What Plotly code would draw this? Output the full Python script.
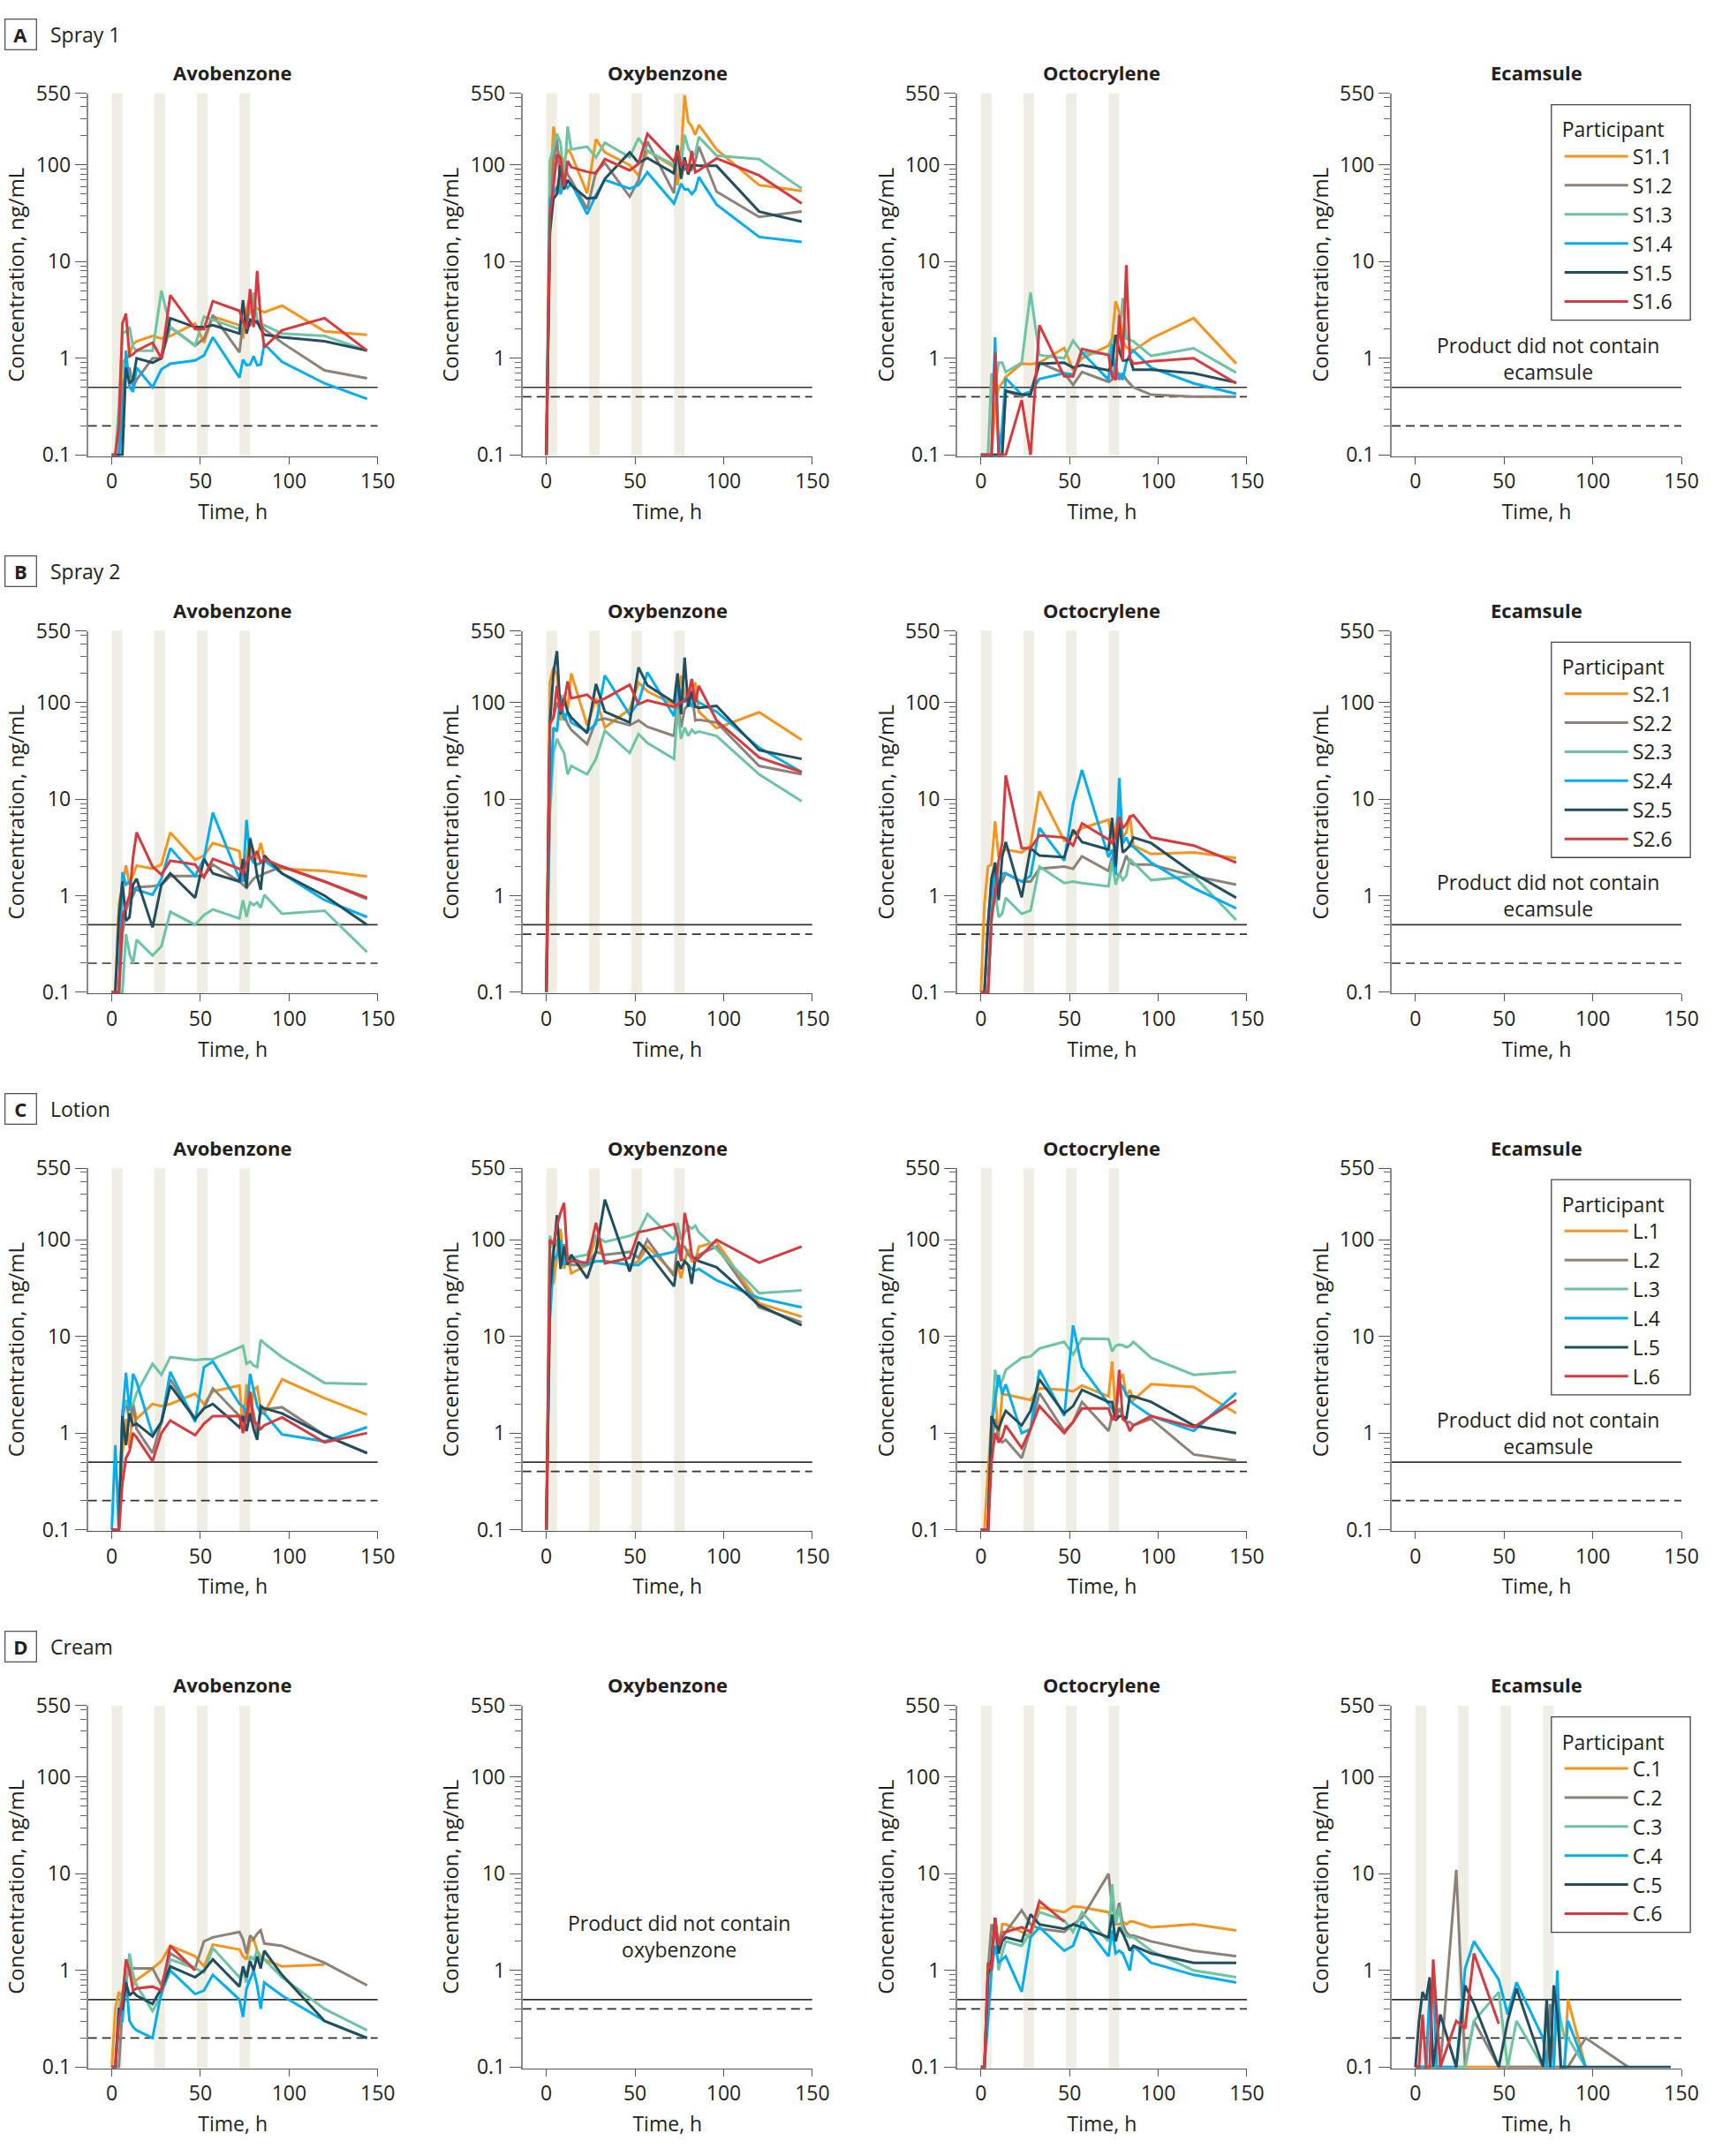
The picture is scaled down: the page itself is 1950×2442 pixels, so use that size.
import math
import plotly.graph_objects as go

# ---------------- data ----------------
T = [0, 2, 4, 6, 8, 10, 12, 14, 23, 28, 33, 47, 52, 57, 72, 74, 76, 78, 80, 82, 84, 86, 96, 120, 144]

ROW_NAMES = ["Spray 1", "Spray 2", "Lotion", "Cream"]
ROW_LETTERS = ["A", "B", "C", "D"]
COMPOUNDS = ["Avobenzone", "Oxybenzone", "Octocrylene", "Ecamsule"]
PARTICIPANTS = [
    ["S1.1", "S1.2", "S1.3", "S1.4", "S1.5", "S1.6"],
    ["S2.1", "S2.2", "S2.3", "S2.4", "S2.5", "S2.6"],
    ["L.1", "L.2", "L.3", "L.4", "L.5", "L.6"],
    ["C.1", "C.2", "C.3", "C.4", "C.5", "C.6"],
]
LLOQ_SOLID = 0.5
LLOQ_DASHED = [0.2, 0.4, 0.4, 0.2]
APPLICATION_BANDS = [(0, 6), (24, 30), (48, 54), (72, 78)]

spray1_avobenzone = [
    [0.1, 0.1, 0.1, 0.9, 1.0, 1.1, 1.4, 1.5, 1.7, 1.6, 1.7, 2.3, 1.45, 2.7, 2.2, 1.6, 3.2, 4.4, 3.5, 3.3, 3.1, 3.0, 3.5, 1.9, 1.75],
    [0.1, 0.1, 0.1, 0.5, 0.7, 0.8, 0.5, 0.6, 1.0, 1.0, 2.1, 1.35, 1.6, 2.8, 1.15, 2.3, 2.4, 2.2, 2.5, 2.3, 2.2, 2.0, 1.45, 0.75, 0.62],
    [0.1, 0.1, 0.3, 1.8, 1.9, 2.1, 1.3, 1.2, 1.2, 5.0, 2.1, 1.35, 2.7, 2.5, 2.0, 2.2, 2.5, 3.0, 4.8, 2.5, 2.3, 2.2, 1.8, 1.7, 1.2],
    [0.1, 0.1, 0.1, 0.2, 1.2, 0.5, 0.45, 0.8, 0.5, 0.77, 0.88, 0.95, 1.07, 1.65, 0.63, 0.97, 0.85, 0.86, 1.05, 0.85, 0.86, 1.4, 0.92, 0.55, 0.38],
    [0.1, 0.1, 0.1, 0.1, 0.8, 0.55, 0.6, 1.0, 0.9, 1.0, 2.6, 2.1, 2.1, 2.2, 1.8, 4.0, 1.8, 2.5, 2.4, 2.4, 2.0, 1.75, 1.65, 1.5, 1.2],
    [0.1, 0.1, 0.2, 2.3, 2.9, 1.05, 1.1, 1.2, 1.45, 1.0, 4.5, 2.0, 2.0, 3.9, 3.1, 2.4, 2.0, 5.2, 2.1, 8.0, 2.5, 1.3, 1.95, 2.6, 1.2],
]
spray1_oxybenzone = [
    [0.1, 40, 250, 150, 120, 110, 145, 130, 51, 185, 135, 100, 78, 140, 95, 62, 130, 530, 280, 250, 205, 260, 145, 62, 54],
    [0.1, 20, 110, 185, 55, 110, 80, 70, 35, 85, 105, 47, 70, 175, 51, 130, 100, 90, 100, 90, 110, 155, 53, 29, 33],
    [0.1, 110, 150, 210, 170, 70, 250, 145, 155, 120, 170, 120, 190, 140, 100, 150, 100, 205, 150, 130, 130, 195, 125, 115, 57],
    [0.1, 44, 50, 60, 50, 65, 58, 65, 31, 49, 70, 57, 62, 84, 40, 50, 64, 56, 56, 50, 55, 75, 39, 18, 16],
    [0.1, 20, 45, 50, 100, 56, 70, 62, 45, 46, 72, 135, 105, 118, 82, 160, 72, 120, 80, 100, 100, 98, 98, 33, 26],
    [0.1, 30, 60, 128, 120, 60, 110, 95, 85, 82, 115, 88, 103, 210, 108, 142, 100, 108, 85, 140, 84, 88, 117, 78, 40],
]
spray1_octocrylene = [
    [0.1, 0.1, 0.1, 0.1, 0.3, 0.5, 0.55, 0.64, 0.88, 0.87, 0.9, 1.28, 0.75, 1.0, 1.35, 1.6, 3.9, 3.0, 1.5, 1.3, 1.25, 1.2, 1.6, 2.6, 0.88],
    [0.1, 0.1, 0.1, 0.1, 0.1, 0.1, 0.1, 0.46, 0.4, 0.45, 0.9, 0.7, 0.53, 0.72, 0.57, 0.6, 0.84, 0.6, 0.7, 0.6, 0.55, 0.5, 0.42, 0.4, 0.4],
    [0.1, 0.1, 0.1, 0.7, 0.5, 0.9, 0.9, 0.72, 0.9, 4.8, 1.08, 1.0, 1.52, 1.15, 1.1, 1.5, 1.7, 1.6, 4.2, 1.6, 1.55, 1.5, 1.06, 1.27, 0.71],
    [0.1, 0.1, 0.1, 0.1, 1.65, 0.1, 0.2, 0.62, 0.42, 0.45, 0.61, 0.7, 0.68, 1.15, 0.6, 1.4, 0.6, 0.7, 0.6, 0.9, 1.1, 1.2, 0.8, 0.55, 0.43],
    [0.1, 0.1, 0.1, 0.1, 0.1, 0.1, 0.1, 0.46, 0.42, 0.42, 0.88, 0.9, 0.8, 0.85, 0.75, 0.85, 1.75, 1.2, 0.95, 0.95, 1.0, 0.76, 0.76, 0.7, 0.56],
    [0.1, 0.1, 0.1, 0.1, 1.15, 0.1, 0.1, 0.1, 0.37, 0.1, 2.2, 0.65, 0.65, 1.25, 1.08, 0.65, 0.6, 2.8, 0.95, 9.2, 1.0, 0.88, 0.93, 1.0, 0.55],
]
spray2_avobenzone = [
    [0.1, 0.1, 0.8, 1.3, 2.05, 1.3, 1.6, 2.05, 1.9, 2.1, 4.5, 2.35, 2.6, 3.5, 2.9, 1.4, 2.5, 4.0, 2.2, 2.5, 3.5, 2.4, 1.9, 1.8, 1.58],
    [0.1, 0.1, 0.1, 0.4, 0.7, 0.9, 1.0, 1.22, 1.25, 1.3, 1.6, 1.6, 1.6, 2.1, 1.4, 1.3, 1.2, 1.35, 1.5, 1.6, 1.6, 1.7, 2.0, 1.4, 0.92],
    [0.1, 0.1, 0.1, 0.1, 0.4, 0.25, 0.2, 0.35, 0.24, 0.3, 0.68, 0.5, 0.63, 0.72, 0.58, 0.9, 0.6, 0.85, 0.8, 0.85, 0.75, 1.02, 0.65, 0.7, 0.26],
    [0.1, 0.1, 0.1, 1.75, 1.3, 1.4, 1.2, 1.15, 1.02, 1.5, 3.1, 1.6, 2.4, 7.2, 1.5, 1.4, 6.1, 2.5, 2.2, 2.1, 2.2, 2.3, 1.7, 0.9, 0.6],
    [0.1, 0.1, 0.6, 1.4, 0.55, 0.6, 1.3, 1.5, 0.47, 1.3, 1.7, 0.95, 2.4, 1.7, 1.4, 2.4, 1.2, 3.9, 2.8, 1.6, 1.15, 2.6, 1.7, 1.0, 0.5],
    [0.1, 0.1, 0.1, 0.6, 0.8, 1.0, 2.5, 4.5, 2.0, 1.65, 2.3, 2.1, 1.55, 2.4, 1.9, 1.7, 2.2, 2.5, 2.5, 2.9, 2.2, 2.4, 2.0, 1.4, 0.95],
]
spray2_oxybenzone = [
    [0.1, 160, 230, 190, 65, 120, 85, 200, 58, 110, 55, 85, 160, 130, 95, 85, 190, 120, 110, 140, 160, 80, 54, 79, 41],
    [0.1, 60, 70, 100, 80, 75, 60, 52, 37, 65, 68, 58, 65, 56, 45, 100, 55, 85, 95, 130, 65, 66, 62, 22, 18],
    [0.1, 7, 30, 42, 35, 30, 18, 22, 18, 26, 51, 30, 47, 38, 26, 85, 42, 55, 45, 52, 48, 50, 45, 18, 9.5],
    [0.1, 10, 55, 50, 120, 65, 80, 62, 50, 60, 190, 75, 100, 205, 72, 150, 130, 100, 110, 90, 110, 100, 80, 34, 19],
    [0.1, 60, 200, 340, 75, 110, 80, 70, 48, 155, 80, 62, 230, 150, 100, 200, 75, 290, 90, 130, 90, 88, 92, 32, 26],
    [0.1, 60, 70, 148, 80, 100, 165, 110, 120, 100, 110, 152, 96, 105, 90, 95, 100, 105, 120, 175, 100, 148, 65, 27, 19],
]
spray2_octocrylene = [
    [0.1, 0.82, 2.0, 2.1, 5.9, 2.5, 2.8, 3.0, 2.8, 3.3, 12, 3.7, 4.3, 5.0, 6.1, 3.5, 5.0, 8.3, 4.0, 4.5, 6.8, 3.3, 2.7, 2.8, 2.45],
    [0.1, 0.1, 0.5, 1.5, 2.0, 1.3, 1.4, 1.7, 1.4, 1.4, 1.9, 2.0, 1.9, 2.55, 1.8, 2.5, 1.7, 1.6, 2.0, 2.6, 2.2, 2.1, 2.1, 1.6, 1.3],
    [0.1, 0.1, 0.1, 0.55, 1.1, 0.6, 0.65, 0.95, 0.65, 0.7, 2.0, 1.35, 1.4, 1.35, 1.25, 2.3, 1.3, 1.7, 1.45, 1.6, 2.4, 2.2, 1.45, 1.6, 0.56],
    [0.1, 0.1, 0.1, 0.6, 2.2, 1.2, 1.7, 1.7, 1.4, 1.6, 5.0, 2.3, 9.0, 20, 2.5, 3.0, 1.7, 16.5, 3.5, 4.0, 3.3, 3.2, 2.2, 1.2, 0.74],
    [0.1, 0.1, 0.5, 1.5, 2.2, 0.9, 2.5, 3.6, 0.96, 3.1, 2.6, 2.5, 4.8, 3.6, 3.0, 6.4, 2.0, 6.0, 2.8, 3.0, 3.3, 4.0, 3.5, 1.7, 0.95],
    [0.1, 0.1, 0.1, 0.6, 1.0, 2.3, 3.5, 17.5, 3.1, 3.1, 4.2, 4.0, 3.3, 5.6, 3.8, 3.5, 4.0, 6.5, 5.0, 5.5, 6.5, 6.8, 4.0, 3.3, 2.2],
]
lotion_avobenzone = [
    [0.1, 0.1, 0.1, 0.6, 1.4, 0.7, 2.0, 1.4, 2.0, 1.9, 2.0, 2.55, 2.0, 2.7, 3.1, 1.1, 3.2, 1.3, 2.8, 3.0, 1.8, 1.6, 3.6, 2.3, 1.55],
    [0.1, 0.1, 0.1, 1.4, 2.2, 1.3, 2.0, 1.1, 0.62, 1.3, 3.6, 1.4, 1.8, 2.9, 1.5, 1.5, 1.4, 2.2, 1.6, 1.0, 1.8, 1.75, 1.85, 0.95, 0.62],
    [0.1, 0.1, 0.1, 1.7, 2.1, 1.9, 2.0, 2.6, 5.2, 4.0, 6.1, 5.7, 5.8, 5.8, 7.6, 8.0, 5.2, 5.5, 5.0, 4.8, 9.2, 8.5, 6.1, 3.3, 3.2],
    [0.1, 0.75, 0.1, 1.5, 4.2, 1.7, 4.1, 3.4, 0.96, 1.3, 4.3, 1.3, 4.8, 5.5, 2.0, 1.9, 1.5, 4.1, 2.8, 1.9, 1.6, 1.6, 0.97, 0.82, 1.15],
    [0.1, 0.1, 0.1, 1.5, 0.75, 1.6, 1.2, 1.25, 0.92, 1.3, 3.1, 1.4, 1.8, 2.0, 1.15, 1.5, 1.05, 1.6, 1.1, 0.85, 1.9, 1.8, 1.6, 0.95, 0.62],
    [0.1, 0.1, 0.1, 0.3, 0.55, 0.65, 1.0, 0.9, 0.51, 1.0, 1.35, 0.95, 1.25, 1.5, 1.5, 1.0, 1.5, 2.7, 1.3, 1.25, 1.1, 1.2, 1.45, 0.8, 1.0],
]
lotion_oxybenzone = [
    [0.1, 40, 35, 70, 130, 50, 70, 45, 55, 105, 60, 55, 60, 85, 45, 55, 40, 60, 80, 60, 60, 85, 95, 22, 16],
    [0.1, 40, 80, 100, 60, 90, 65, 55, 55, 75, 70, 75, 65, 100, 42, 90, 85, 85, 70, 65, 65, 70, 85, 20, 14],
    [0.1, 110, 80, 100, 80, 65, 60, 65, 70, 110, 95, 110, 120, 185, 100, 150, 100, 120, 140, 130, 140, 120, 80, 28, 30],
    [0.1, 15, 60, 70, 100, 55, 60, 65, 55, 60, 60, 55, 55, 65, 75, 85, 65, 60, 55, 50, 48, 50, 38, 25, 20],
    [0.1, 30, 70, 180, 50, 85, 55, 70, 40, 75, 260, 47, 95, 75, 33, 60, 50, 60, 55, 35, 65, 60, 52, 21, 13],
    [0.1, 100, 90, 140, 190, 240, 60, 60, 58, 150, 57, 65, 120, 125, 145, 110, 60, 190, 130, 70, 60, 65, 100, 58, 85],
]
lotion_octocrylene = [
    [0.1, 0.1, 0.4, 1.3, 2.5, 0.9, 2.5, 2.5, 2.3, 2.2, 2.9, 2.8, 2.7, 3.1, 2.4, 5.5, 1.6, 3.5, 4.1, 2.4, 2.8, 2.2, 3.2, 3.0, 1.6],
    [0.1, 0.1, 0.1, 0.8, 1.4, 0.9, 0.8, 0.85, 0.55, 1.1, 2.6, 1.05, 1.3, 2.1, 1.05, 1.5, 1.4, 1.8, 1.5, 1.3, 1.3, 1.2, 1.4, 0.6, 0.52],
    [0.1, 0.1, 0.1, 1.0, 4.5, 3.0, 3.5, 4.5, 6.0, 6.2, 7.5, 8.8, 6.5, 9.5, 9.4, 7.0, 8.0, 8.2, 8.1, 7.7, 8.0, 8.8, 6.0, 4.0, 4.3],
    [0.1, 0.1, 0.1, 1.2, 2.2, 4.0, 2.5, 3.2, 1.0, 1.1, 4.5, 1.5, 13, 4.8, 2.0, 1.8, 1.5, 3.3, 3.0, 2.5, 2.2, 2.0, 1.5, 1.05, 2.6],
    [0.1, 0.1, 0.1, 1.5, 1.2, 1.1, 1.4, 1.7, 1.2, 1.7, 3.6, 1.6, 1.9, 2.8, 2.1, 2.1, 1.35, 1.5, 1.5, 1.4, 2.4, 2.4, 2.1, 1.2, 1.0],
    [0.1, 0.1, 0.1, 0.5, 1.0, 0.8, 0.9, 1.2, 0.7, 1.1, 1.9, 1.0, 1.3, 1.8, 1.8, 1.4, 1.4, 4.5, 1.4, 1.3, 1.05, 1.2, 1.5, 1.15, 2.2],
]
cream_avobenzone = [
    [0.1, 0.4, 0.6, 0.5, 1.2, 1.3, 0.7, 0.8, 1.05, 1.25, 1.8, 1.4, 1.1, 1.85, 1.65, 1.4, 1.3, 2.0, 2.1, 1.6, 1.4, 1.3, 1.1, 1.15, None],
    [0.1, 0.1, 0.1, 0.4, 0.8, 1.05, 1.05, 1.05, 1.05, 0.7, 1.5, 1.05, 2.0, 2.2, 2.5, 2.1, 1.5, 2.3, 2.1, 2.4, 2.6, 1.9, 1.8, 1.2, 0.7],
    [0.1, 0.1, 0.4, 0.6, 0.7, 1.5, 0.9, 0.7, 0.38, 0.55, 1.3, 1.05, 0.95, 1.7, 0.85, 1.0, 0.75, 1.4, 1.3, 1.6, 1.3, 1.3, 0.85, 0.4, 0.24],
    [0.1, 0.1, 0.3, 0.3, 0.8, 0.3, 0.26, 0.24, 0.2, 0.6, 1.0, 0.57, 0.62, 0.9, 0.5, 0.33, 0.65, 0.8, 1.0, 0.7, 0.4, 0.75, 0.55, 0.3, 0.2],
    [0.1, 0.1, 0.4, 0.4, 0.75, 0.55, 0.6, 0.55, 0.45, 0.65, 1.1, 0.85, 1.0, 1.3, 0.68, 1.1, 0.85, 1.25, 1.0, 1.4, 1.05, 1.6, 0.9, 0.3, 0.2],
    [0.1, 0.1, 0.3, 0.5, 1.3, 1.0, 0.62, 0.65, 0.68, 0.62, 1.8, 1.0, None, None, None, None, None, None, None, None, None, None, None, None, None],
]
cream_octocrylene = [
    [0.1, 0.1, 0.8, 1.5, 3.5, 1.5, 3.0, 3.0, 2.5, 2.2, 4.5, 4.0, 4.6, 4.5, 4.0, 3.2, 3.0, 3.0, 3.2, 3.0, 3.2, 3.2, 2.8, 3.0, 2.6],
    [0.1, 0.1, 1.0, 3.0, 2.5, 2.0, 2.5, 2.5, 4.2, 3.0, 2.7, 2.5, 3.0, 3.5, 10, 4.5, 3.5, 5.0, 3.0, 2.5, 2.3, 2.3, 2.0, 1.6, 1.4],
    [0.1, 0.1, 0.8, 1.5, 3.0, 1.0, 1.5, 2.0, 1.8, 2.5, 4.0, 3.3, 2.5, 4.0, 2.0, 7.8, 3.0, 4.5, 2.5, 2.3, 2.2, 2.2, 1.6, 1.0, 0.85],
    [0.1, 0.1, 0.3, 1.0, 1.8, 1.2, 1.3, 1.4, 0.6, 2.2, 2.8, 1.6, 1.8, 3.2, 1.4, 2.6, 1.5, 1.6, 1.5, 1.2, 1.0, 1.8, 1.2, 0.9, 0.75],
    [0.1, 0.1, 0.9, 1.3, 3.5, 1.5, 2.0, 2.2, 2.0, 3.8, 3.0, 2.7, 3.0, 2.8, 2.2, 3.8, 2.0, 2.8, 2.4, 2.0, 1.6, 1.8, 1.5, 1.2, 1.2],
    [0.1, 0.1, 1.2, 1.0, 3.5, 1.8, 2.2, 2.5, 2.8, 2.5, 5.2, 3.2, None, None, None, None, None, None, None, None, None, None, None, None, None],
]
cream_ecamsule = [
    [0.1, 0.1, 0.1, 0.1, 0.1, 0.1, 0.1, 0.1, 0.1, 0.1, 0.1, 0.1, 0.1, 0.1, 0.1, 0.1, 0.1, 0.1, 0.1, 0.1, 0.1, 0.5, 0.1, None, None],
    [0.1, 0.1, 0.1, 0.1, 0.1, 0.1, 0.1, 0.1, 11, 0.1, 0.3, 0.1, 0.1, 0.1, 0.1, 0.1, 0.45, 0.1, 0.1, 0.1, 0.1, 0.1, 0.2, 0.1, None],
    [0.1, 0.1, 0.1, 0.1, 0.6, 0.1, 0.1, 0.1, 0.1, 0.1, 0.3, 0.6, 0.1, 0.3, 0.1, 0.4, 0.1, 0.1, 0.5, 0.3, 0.2, 0.2, 0.1, None, None],
    [0.1, 0.1, 0.1, 0.1, 0.55, 0.85, 0.1, 0.1, 0.1, 1.05, 2.0, 0.8, 0.35, 0.75, 0.2, 0.1, 0.1, 0.1, 1.0, 0.1, 0.1, 0.3, 0.1, None, None],
    [0.1, 0.3, 0.6, 0.5, 0.85, 0.1, 0.2, 0.35, 0.1, 0.7, 0.45, 0.1, 0.3, 0.65, 0.1, 0.5, 0.1, 0.7, 0.35, 0.1, 0.1, 0.1, 0.1, 0.1, 0.1],
    [0.1, 0.1, 0.35, 0.1, 0.1, 1.3, 0.35, 0.1, 0.3, 0.25, 1.5, 0.28, None, None, None, None, None, None, None, None, None, None, None, None, None],
]

PANEL_DATA = [
    [spray1_avobenzone, spray1_oxybenzone, spray1_octocrylene, None],
    [spray2_avobenzone, spray2_oxybenzone, spray2_octocrylene, None],
    [lotion_avobenzone, lotion_oxybenzone, lotion_octocrylene, None],
    [cream_avobenzone, None, cream_octocrylene, cream_ecamsule],
]

# ---------------- style / layout ----------------
COLORS = ["#F7941D", "#8C8279", "#6CC4A4", "#00AEEF", "#234E5E", "#D7393E"]
BAND_COLOR = "#EEEEE4"
TEXT = "#231F20"
FONT = "Open Sans"
FS = 23
W, H = 1950, 2442
COL_LEFT = [100.7 + c * 497.2 for c in range(4)]
PW = 331.5
ROW_TOP = [90 + r * 616.5 for r in range(4)]
PH = 416
XMIN, XMAX = -13.4, 150
YMIN, YMAX = -1.012, math.log10(550)

major_y = [0.1, 1, 10, 100, 550]
minor_y = [m * d for d in (0.1, 1, 10) for m in range(2, 10)] + [200, 300, 400, 500]

fig = go.Figure()
layout = {}
shapes = []
annotations = []

for r in range(4):
    leg = "legend" if r == 0 else f"legend{r + 1}"
    for c in range(4):
        n = r * 4 + c + 1
        s = "" if n == 1 else str(n)
        x0 = COL_LEFT[c] / W
        x1 = (COL_LEFT[c] + PW) / W
        y1 = 1 - ROW_TOP[r] / H
        y0 = 1 - (ROW_TOP[r] + PH) / H
        layout["xaxis" + s] = dict(
            domain=[x0, x1], anchor="y" + s, range=[XMIN, XMAX],
            tickvals=[0, 50, 100, 150], ticks="outside", ticklen=8, tickwidth=1.2,
            tickcolor="#555", showline=True, linecolor="#555", linewidth=1.3,
            showgrid=False, zeroline=False,
            tickfont=dict(size=FS, color=TEXT, family=FONT),
            title=dict(text="Time, h", standoff=12, font=dict(size=FS, color=TEXT, family=FONT)),
        )
        layout["yaxis" + s] = dict(
            domain=[y0, y1], anchor="x" + s, type="log", range=[YMIN, YMAX],
            tickmode="array", tickvals=major_y, ticktext=["0.1", "1", "10", "100", "550"],
            ticks="outside", ticklen=13, tickwidth=1.2, tickcolor="#555",
            minor=dict(tickmode="array", tickvals=minor_y, ticks="outside", ticklen=7,
                       tickwidth=1, tickcolor="#666", showgrid=False),
            showline=True, linecolor="#8a8a8a", linewidth=1.8,
            showgrid=False, zeroline=False,
            tickfont=dict(size=FS, color=TEXT, family=FONT),
            title=dict(text="Concentration, ng/mL", standoff=6, font=dict(size=24, color=TEXT, family=FONT)),
        )
        data = PANEL_DATA[r][c]
        if data is not None:
            for (b0, b1) in APPLICATION_BANDS:
                shapes.append(dict(type="rect", xref="x" + s, yref=f"y{s} domain",
                                   x0=b0, x1=b1, y0=0, y1=1, fillcolor=BAND_COLOR,
                                   line=dict(width=0), layer="below"))
        # quantification limit lines
        fig.add_trace(go.Scatter(x=[XMIN, XMAX], y=[LLOQ_SOLID, LLOQ_SOLID], mode="lines",
                                 line=dict(color="#333", width=1.7), xaxis="x" + s, yaxis="y" + s,
                                 showlegend=False, hoverinfo="skip"))
        fig.add_trace(go.Scatter(x=[XMIN, XMAX], y=[LLOQ_DASHED[c], LLOQ_DASHED[c]], mode="lines",
                                 line=dict(color="#333", width=1.7, dash="10px,6px"),
                                 xaxis="x" + s, yaxis="y" + s, showlegend=False, hoverinfo="skip"))
        if data is not None:
            for k, vals in enumerate(data):
                name = PARTICIPANTS[r][k]
                fig.add_trace(go.Scatter(
                    x=T, y=vals, mode="lines", name=name, legendgroup=f"{r}-{name}",
                    line=dict(color=COLORS[k], width=3), xaxis="x" + s, yaxis="y" + s,
                    showlegend=(c == 0), legend=leg, connectgaps=False))
        else:
            comp = COMPOUNDS[c].lower()
            ypos = 0.365 if c == 1 else 0.27
            annotations.append(dict(text=f"Product did not contain<br>{comp}", xref="x" + s,
                                    yref=f"y{s} domain", x=75, y=ypos, xanchor="center",
                                    yanchor="middle", showarrow=False,
                                    font=dict(size=FS, color=TEXT, family=FONT), align="center"))
        # subplot title
        annotations.append(dict(text=f"<b>{COMPOUNDS[c]}</b>", xref="paper", yref="paper",
                                x=(COL_LEFT[c] + PW / 2) / W, y=1 - (ROW_TOP[r] - 24) / H,
                                xanchor="center", yanchor="middle", showarrow=False,
                                font=dict(size=22, color=TEXT, family=FONT)))
    # row label
    yc = 1 - (ROW_TOP[r] - 68) / H
    annotations.append(dict(text=f"<b>{ROW_LETTERS[r]}</b>", xref="paper", yref="paper",
                            x=23.5 / W, y=yc, xanchor="center", yanchor="middle", showarrow=False,
                            width=32, height=31, borderpad=1, bordercolor="#555", borderwidth=1.3,
                            font=dict(size=22, color=TEXT, family=FONT)))
    annotations.append(dict(text=ROW_NAMES[r], xref="paper", yref="paper",
                            x=56 / W, y=yc, xanchor="left", yanchor="middle", showarrow=False,
                            font=dict(size=FS, color=TEXT, family=FONT)))
    # legend frame
    shapes.append(dict(type="rect", xref="paper", yref="paper",
                       x0=1775 / W, x1=1934 / W,
                       y0=1 - (ROW_TOP[r] + 260) / H, y1=1 - (ROW_TOP[r] + 13) / H,
                       line=dict(color="#444", width=1.3), fillcolor="white", layer="above"))
    layout[leg] = dict(
        x=1785 / W, y=1 - (ROW_TOP[r] + 20) / H, xanchor="left", yanchor="top",
        borderwidth=0, bgcolor="rgba(0,0,0,0)",
        font=dict(size=FS, color=TEXT, family=FONT),
        title=dict(text="Participant", font=dict(size=FS, color=TEXT, family=FONT)),
        itemwidth=72, tracegroupgap=0, traceorder="grouped",
    )

layout.update(dict(
    width=W, height=H, margin=dict(l=0, r=0, t=0, b=0),
    paper_bgcolor="white", plot_bgcolor="white",
    font=dict(family=FONT, color=TEXT, size=FS),
    shapes=shapes, annotations=annotations, hovermode=False,
))
fig.update_layout(layout)
fig.write_html("out.html")
